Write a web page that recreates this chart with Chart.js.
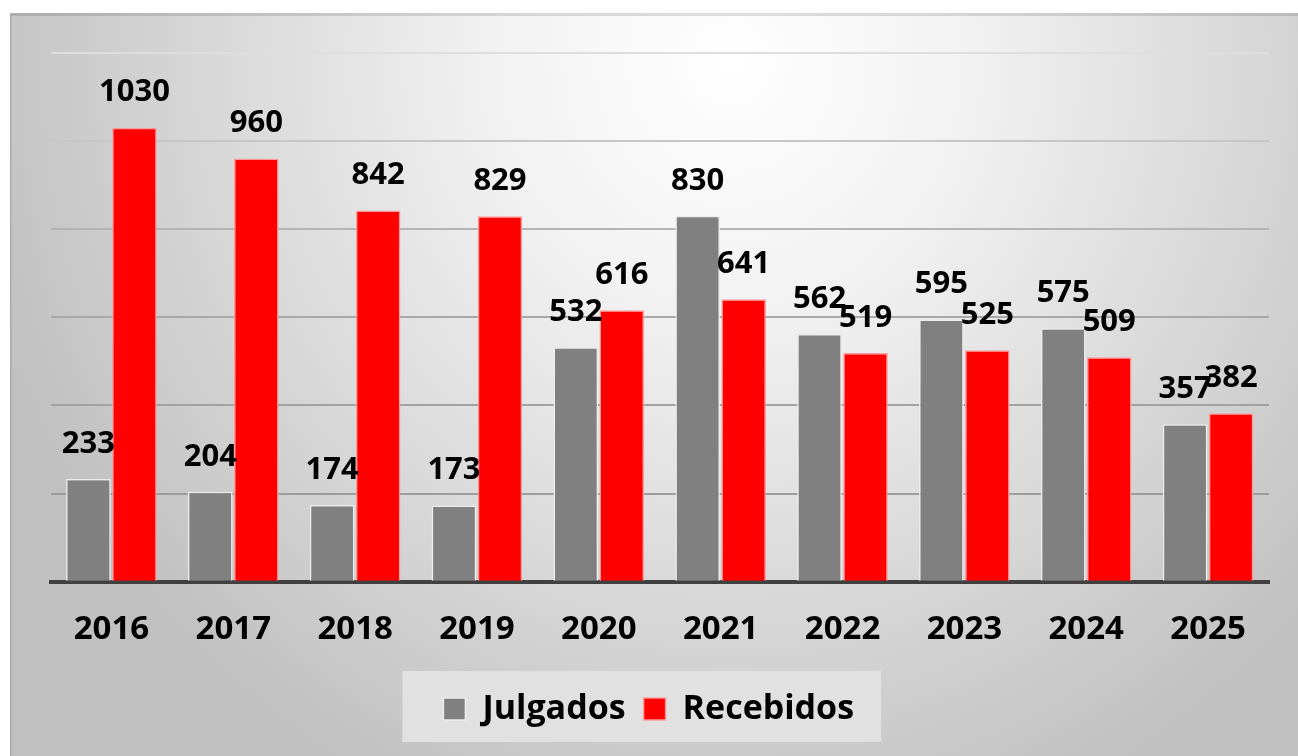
<!DOCTYPE html>
<html>
<head>
<meta charset="utf-8">
<script src="https://cdn.jsdelivr.net/npm/chart.js@4/dist/chart.umd.min.js"></script>
<style>
  html, body { margin: 0; padding: 0; background: #ffffff; }
  #wrap { position: absolute; left: 10px; top: 13px; width: 1288px; height: 743px; }
</style>
</head>
<body>
<div id="wrap"><canvas id="c"></canvas></div>
<script>
const years = ['2016','2017','2018','2019','2020','2021','2022','2023','2024','2025'];
const julgados = [233, 204, 174, 173, 532, 830, 562, 595, 575, 357];
const recebidos = [1030, 960, 842, 829, 616, 641, 519, 525, 509, 382];
const seriesNames = ['Julgados', 'Recebidos'];

const FONT = "'Open Sans', 'DejaVu Sans', sans-serif";

const bgPlugin = {
  id: 'bg',
  afterLayout(chart) {
    const lg = chart.legend;
    if (lg) { lg.left -= 11; lg.right -= 11; }
  },
  beforeDraw(chart) {
    const {ctx, width, height} = chart;
    ctx.save();
    ctx.translate(width * 0.56, 50);
    ctx.scale(1.0, 1.05);
    const g = ctx.createRadialGradient(0, 0, 0, 0, 0, 780);
    g.addColorStop(0, '#ffffff');
    g.addColorStop(0.3, '#f2f2f2');
    g.addColorStop(1, '#c0c0c0');
    ctx.fillStyle = g;
    ctx.fillRect(-width, -200, width * 2, height * 2);
    ctx.restore();
    ctx.save();
    ctx.strokeStyle = 'rgba(0,0,0,0.12)';
    ctx.lineWidth = 3;
    ctx.beginPath();
    ctx.moveTo(0, height);
    ctx.lineTo(0, 1.5);
    ctx.lineTo(width, 1.5);
    ctx.stroke();
    ctx.restore();

    // legend panel
    const lg = chart.legend;
    if (!lg || !lg.legendHitBoxes || !lg.legendHitBoxes.length) return;
    const hb = lg.legendHitBoxes;
    const first = hb[0], last = hb[hb.length - 1];
    ctx.save();
    ctx.fillStyle = '#e1e1e1';
    const top = lg.top - 3;
    ctx.fillRect(first.left - 41, top, (last.left + last.width + 27) - (first.left - 41), 71);
    ctx.restore();
  }
};

const labelPlugin = {
  id: 'valueLabels',
  afterDatasetsDraw(chart) {
    const ctx = chart.ctx;
    ctx.save();
    ctx.font = "bold 31px " + FONT;
    ctx.fillStyle = '#000000';
    ctx.textAlign = 'center';
    ctx.textBaseline = 'middle';
    chart.data.datasets.forEach((ds, di) => {
      const meta = chart.getDatasetMeta(di);
      meta.data.forEach((bar, i) => {
        ctx.fillText(String(ds.data[i]), bar.x, bar.y - 35);
      });
    });
    ctx.restore();
  }
};

const gridColors = ['rgba(0,0,0,0)', '#9c9c9c', '#a2a2a2', '#a8a8a8', '#b4b4b4', '#c6c6c6', '#dedede'];

new Chart(document.getElementById('c'), {
  type: 'bar',
  data: {
    labels: years,
    datasets: [
      {
        label: seriesNames[0],
        data: julgados,
        backgroundColor: '#808080',
        borderColor: '#ececec',
        borderWidth: 1.5,
        categoryPercentage: 0.755,
        barPercentage: 0.97
      },
      {
        label: seriesNames[1],
        data: recebidos,
        backgroundColor: '#ff0000',
        borderColor: '#ff9a9a',
        borderWidth: 1.5,
        categoryPercentage: 0.755,
        barPercentage: 0.97
      }
    ]
  },
  options: {
    responsive: true,
    maintainAspectRatio: false,
    animation: false,
    layout: { padding: { left: 40.5, right: 29, top: 39.7, bottom: 20 } },
    plugins: {
      legend: {
        position: 'bottom',
        labels: {
          boxWidth: 22,
          boxHeight: 22,
          padding: 18,
          color: '#000000',
          font: { family: FONT, size: 34, weight: 'bold' }
        }
      },
      tooltip: { enabled: false }
    },
    scales: {
      x: {
        z: 1,
        grid: { display: false, drawTicks: false },
        border: { display: true, color: '#404040', width: 4 },
        ticks: {
          padding: 28,
          color: '#000000',
          font: { family: FONT, size: 33, weight: 'bold' }
        },
        afterFit(scale) { scale.height = 92.3; }
      },
      y: {
        min: 0,
        max: 1200,
        ticks: { display: false, stepSize: 200 },
        border: { display: false },
        grid: {
          drawTicks: false,
          lineWidth: 2,
          color: (ctx) => gridColors[ctx.index] || '#b0b0b0'
        }
      }
    }
  },
  plugins: [bgPlugin, labelPlugin]
});
</script>
</body>
</html>
